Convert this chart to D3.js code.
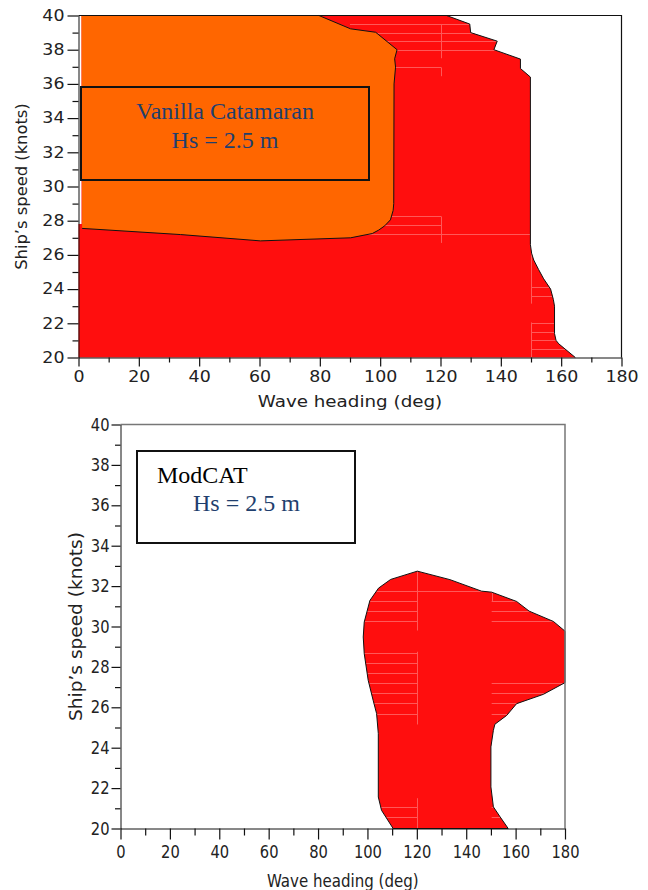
<!DOCTYPE html>
<html>
<head>
<meta charset="utf-8">
<script src="https://cdn.jsdelivr.net/npm/d3@7"></script>
<style>
  html, body { margin: 0; padding: 0; background: #fff; }
  svg { display: block; }
</style>
</head>
<body>
<div id="chart"></div>
<script>
// tick labels (both panels share them)
const headingTicks = [0, 20, 40, 60, 80, 100, 120, 140, 160, 180];
const headingMinor = [10, 30, 50, 70, 90, 110, 130, 150, 170];
const speedTicks = [20, 22, 24, 26, 28, 30, 32, 34, 36, 38, 40];
const speedMinor = [21, 23, 25, 27, 29, 31, 33, 35, 37, 39];

// Vanilla catamaran: red region outline [heading, speed]
const vanillaRedEdge = [
  [122, 40], [129.7, 39.5], [130, 39.0], [138.8, 38.5], [137.7, 38.0],
  [146.5, 37.45], [146.5, 36.9], [149.8, 36.4], [149.8, 26.6], [150.2, 26.1],
  [150.9, 25.7], [152.5, 25.15], [154.2, 24.6], [156.5, 24.0], [157.4, 23.4],
  [157.8, 23.0], [157.8, 21.4], [158.3, 21.0], [159.2, 20.8], [164.7, 20]
];
const vanillaRedLeft = [[0, 20], [0, 27.8], [1, 27.8], [1, 40]];

// Vanilla catamaran: orange region outline
const vanillaOrangeEdge = [
  [79.7, 40], [90.2, 39.22], [98.5, 39.02], [105.6, 38.0], [104.8, 37.47],
  [105.1, 36.98], [104.6, 36.0], [104.5, 29.0], [104.3, 28.6], [103.4, 28.05],
  [101.5, 27.7], [99.5, 27.45], [97.4, 27.25], [90.2, 27.0], [60.3, 26.82],
  [33.8, 27.19], [1.2, 27.55]
];

// ModCAT: red region outline
const modcatRed = [
  [120.2, 32.74], [133.4, 32.32], [146.2, 31.75], [150.3, 31.7], [160.4, 31.24],
  [165.5, 30.76], [175.3, 30.25], [180, 29.77], [180, 27.22], [171.2, 26.64],
  [160.4, 26.18], [156.4, 25.6], [151.6, 25.16], [151, 24.86], [150, 24.04],
  [150, 22.06], [151, 21.07], [153.7, 20.58], [157, 20], [110.4, 20],
  [105.7, 20.9], [104.4, 21.56], [104.4, 24.7], [103.7, 25.69], [102.3, 26.35],
  [100.3, 27.34], [98.7, 28.66], [98.3, 29.48], [98.7, 30.22], [101, 31.29],
  [104.5, 31.9], [109.4, 32.33]
];

// faint contour-grid streaks inside the red areas: [speed, heading0, heading1]
const vanillaStreaksH = [
  [39.5, 90, 135], [39.0, 90, 135], [38.5, 90, 140], [38.0, 90, 140], [37.0, 105, 120.3],
  [28.25, 100, 120.2], [27.75, 100, 120.2], [27.2, 95, 150],
  [24.1, 150, 170], [23.6, 150, 170], [22.0, 150, 170], [21.5, 150, 170],
  [21.0, 150, 170], [20.5, 150, 170]
];
// [heading, speed0, speed1]
const vanillaStreaksV = [
  [120.3, 37.5, 39.5], [120.3, 36.45, 36.95], [120.2, 26.7, 28.25],
  [150, 23.15, 26.25], [150, 20, 22.05]
];
const modcatStreaksH = [
  [31.75, 100, 150.3], [31.25, 95, 120.2], [31.25, 150.3, 180], [30.75, 95, 120.2],
  [30.75, 150.3, 180], [30.25, 95, 120.2], [30.25, 150.3, 180], [28.7, 95, 120.2],
  [28.2, 95, 120.2], [27.7, 95, 120.2], [27.2, 95, 120.2], [27.2, 150.3, 180],
  [26.7, 95, 120.2], [26.7, 150.3, 180], [26.2, 95, 120.2], [26.2, 150.3, 180],
  [25.65, 95, 120.2], [25.65, 150.3, 180], [21.05, 95, 120.2], [21.05, 150.3, 180],
  [20.55, 95, 120.2], [20.55, 150.3, 180]
];
const modcatStreaksV = [
  [120.2, 29.8, 33], [120.2, 25.15, 28.75], [120.2, 20, 21.5], [150.3, 31.25, 31.7]
];

const RED = "#ff0e0e", ORANGE = "#ff6600", STREAK = "#ff5858";
const BLUE = "#1f3f6e";

const svg = d3.select("#chart").append("svg")
  .attr("width", 648).attr("height", 890);

function stretch(sel, sx) {
  sel.each(function () {
    const t = d3.select(this);
    const x = +t.attr("x") || 0, y = +t.attr("y") || 0;
    t.attr("x", null).attr("y", null)
      .attr("transform", `translate(${x},${y}) scale(${sx},1)`);
  });
}

function drawPanel(p) {
  const g = svg.append("g");
  const x = d3.scaleLinear().domain([0, 180]).range(p.xr);
  const y = d3.scaleLinear().domain([20, 40]).range(p.yr);
  const line = d3.line().x(d => x(d[0])).y(d => y(d[1]));

  // regions
  p.regions.forEach((r, i) => {
    g.append("path").attr("d", line(r.fill) + "Z").attr("fill", r.color);
    if (r.streaksH) {
      const id = p.id + "clip" + i;
      g.append("clipPath").attr("id", id)
        .append("path").attr("d", line(r.fill) + "Z");
      const s = g.append("g").attr("clip-path", `url(#${id})`)
        .attr("stroke", STREAK).attr("stroke-width", 1);
      s.selectAll("line.h").data(r.streaksH).join("line")
        .attr("x1", d => x(d[1])).attr("x2", d => x(d[2]))
        .attr("y1", d => Math.round(y(d[0])) + 0.5).attr("y2", d => Math.round(y(d[0])) + 0.5);
      s.selectAll("line.v").data(r.streaksV).join("line")
        .attr("x1", d => Math.round(x(d[0])) + 0.5).attr("x2", d => Math.round(x(d[0])) + 0.5)
        .attr("y1", d => y(d[1])).attr("y2", d => y(d[2]));
    }
  });
  p.regions.forEach(r => {
    g.append("path").attr("d", line(r.edge) + (r.closed ? "Z" : ""))
      .attr("fill", "none").attr("stroke", "#111").attr("stroke-width", 1);
  });

  // frame (top + right)
  g.append("path")
    .attr("d", `M${p.xr[0]},${p.yr[1]}H${p.xr[1]}V${p.yr[0]}`)
    .attr("fill", "none").attr("stroke", p.frame).attr("stroke-width", p.frameW);

  // axes
  const xAxis = g.append("g").attr("transform", `translate(0,${p.yr[0]})`)
    .call(d3.axisBottom(x).tickValues(headingTicks).tickFormat(d3.format("d"))
      .tickSize(p.xTick).tickSizeOuter(0).tickPadding(p.xPad));
  g.append("g").attr("transform", `translate(0,${p.yr[0]})`)
    .call(d3.axisBottom(x).tickValues(headingMinor).tickFormat("")
      .tickSize(p.xMinor).tickSizeOuter(0))
    .call(a => a.select(".domain").remove());
  const yAxis = g.append("g").attr("transform", `translate(${p.xr[0]},0)`)
    .call(d3.axisLeft(y).tickValues(speedTicks).tickFormat(d3.format("d"))
      .tickSize(p.yTick).tickSizeOuter(0).tickPadding(p.yPad));
  g.append("g").attr("transform", `translate(${p.xr[0]},0)`)
    .call(d3.axisLeft(y).tickValues(speedMinor).tickFormat("")
      .tickSize(p.yMinor).tickSizeOuter(0))
    .call(a => a.select(".domain").remove());

  g.selectAll(".tick line").attr("stroke", "#111").attr("stroke-width", 1.2);
  g.selectAll(".domain").attr("stroke", "#111");
  [xAxis, yAxis].forEach(a => a.selectAll("text")
    .attr("font-family", "DejaVu Sans").attr("font-size", p.fs).attr("fill", "#222"));
  stretch(xAxis.selectAll("text"), p.sx);
  stretch(yAxis.selectAll("text"), p.sx);

  // axis titles
  g.append("text")
    .attr("transform", `translate(${(p.xr[0] + p.xr[1]) / 2},${p.xTitleY}) scale(${p.xTitleS},1)`)
    .attr("text-anchor", "middle").attr("font-family", "DejaVu Sans")
    .attr("font-size", p.fs).attr("fill", "#222").text("Wave heading (deg)");
  g.append("text")
    .attr("transform", `translate(${p.yTitleX},${(p.yr[0] + p.yr[1]) / 2}) rotate(-90) scale(${p.yTitleS},${p.yTitleT})`)
    .attr("text-anchor", "middle").attr("font-family", "DejaVu Sans")
    .attr("font-size", p.fs).attr("fill", "#222").text("Ship\u2019s speed (knots)");

  // legend box
  const L = p.legend;
  g.append("rect").attr("x", L.x).attr("y", L.y).attr("width", L.w).attr("height", L.h)
    .attr("fill", "none").attr("stroke", "#111").attr("stroke-width", 2);
  L.lines.forEach(t => {
    g.append("text").attr("x", t.x).attr("y", t.y)
      .attr("text-anchor", t.anchor).attr("font-family", "Liberation Serif")
      .attr("font-size", 24).attr("fill", t.color).text(t.text);
  });
}

drawPanel({
  id: "top",
  xr: [78.5, 621.5], yr: [357.5, 15.5],
  frame: "#111", frameW: 1.2,
  xTick: 9, xMinor: 5, xPad: 5, yTick: 11, yMinor: 6, yPad: 3,
  fs: 15, sx: 1.16,
  xTitleY: 406.5, xTitleS: 1.22,
  yTitleX: 27, yTitleS: 1.09, yTitleT: 1.0,
  regions: [
    { fill: vanillaRedLeft.concat(vanillaRedEdge), edge: vanillaRedEdge, color: RED,
      streaksH: vanillaStreaksH, streaksV: vanillaStreaksV },
    { fill: [[1, 40]].concat(vanillaOrangeEdge), edge: vanillaOrangeEdge, color: ORANGE }
  ],
  legend: { x: 81, y: 87, w: 288, h: 93, lines: [
    { text: "Vanilla Catamaran", x: 225, y: 119, anchor: "middle", color: BLUE },
    { text: "Hs = 2.5 m", x: 225, y: 147.5, anchor: "middle", color: BLUE }
  ] }
});

drawPanel({
  id: "bot",
  xr: [120.5, 565], yr: [828.5, 424.5],
  frame: "#777", frameW: 1.5,
  xTick: 11, xMinor: 7, xPad: 6, yTick: 9, yMinor: 5.5, yPad: 2,
  fs: 17.5, sx: 0.84,
  xTitleY: 886.5, xTitleS: 0.86,
  yTitleX: 81.5, yTitleS: 1.06, yTitleT: 1.0,
  regions: [
    { fill: modcatRed, edge: modcatRed, closed: true, color: RED,
      streaksH: modcatStreaksH, streaksV: modcatStreaksV }
  ],
  legend: { x: 137, y: 451, w: 218, h: 92, lines: [
    { text: "ModCAT", x: 157, y: 483, anchor: "start", color: "#000" },
    { text: "Hs = 2.5 m", x: 193, y: 511, anchor: "start", color: BLUE }
  ] }
});
</script>
</body>
</html>
